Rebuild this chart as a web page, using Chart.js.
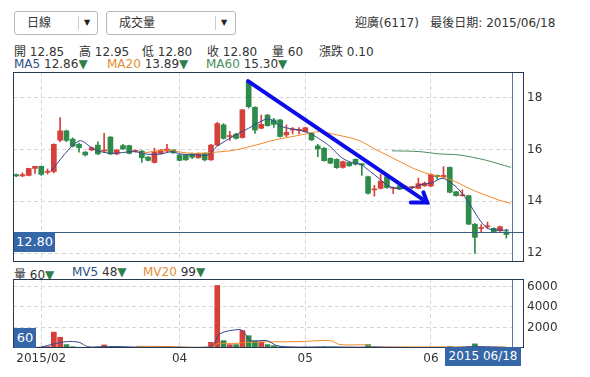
<!DOCTYPE html>
<html><head><meta charset="utf-8">
<script src="https://cdn.jsdelivr.net/npm/chart.js@4/dist/chart.umd.min.js"></script>
<style>
body{margin:0;width:590px;height:377px;background:#fff;font-family:"DejaVu Sans","Noto Sans CJK TC",sans-serif;font-size:12px;color:#333;position:relative;overflow:hidden}
.a{position:absolute;white-space:nowrap}
.dd{position:absolute;top:11px;height:22px;border:1px solid #b8b8b8;border-radius:3px;line-height:22px;background:#fff}
.dd .t{position:absolute;left:12px;top:0}
.dd .sep{position:absolute;top:4px;width:1px;height:14px;background:#ccc}
.dd .arr{position:absolute;top:0;font-size:8px;color:#222}
.tri{color:#2f7d4a;font-size:12px}
.box{position:absolute;background:#3466a8;color:#fff;font-size:13px;text-align:center}
canvas{position:absolute;left:0}
</style></head><body>
<div class="dd" style="left:14px;width:82px"><span class="t">日線</span><span class="sep" style="left:63px"></span><span class="arr" style="left:69px">▼</span></div>
<div class="dd" style="left:106px;width:128px"><span class="t">成交量</span><span class="sep" style="left:108px"></span><span class="arr" style="left:114px">▼</span></div>
<div class="a" style="left:355px;top:13px">迎廣(6117)&nbsp;&nbsp; 最後日期: 2015/06/18</div>
<div class="a" style="left:14px;top:42px">開 12.85</div>
<div class="a" style="left:79px;top:42px">高 12.95</div>
<div class="a" style="left:142px;top:42px">低 12.80</div>
<div class="a" style="left:207px;top:42px">收 12.80</div>
<div class="a" style="left:272px;top:42px">量 60</div>
<div class="a" style="left:319px;top:42px">漲跌 0.10</div>
<div class="a" style="left:14px;top:57px"><span style="color:#2d4f80">MA5</span> 12.86<span class="tri">▼</span></div>
<div class="a" style="left:107px;top:57px"><span style="color:#e58c35">MA20</span> 13.89<span class="tri">▼</span></div>
<div class="a" style="left:206px;top:57px"><span style="color:#4a8d5c">MA60</span> 15.30<span class="tri">▼</span></div>
<div class="a" style="left:14px;top:265px">量 60<span class="tri">▼</span></div>
<div class="a" style="left:72px;top:265px"><span style="color:#2d4f80">MV5</span> 48<span class="tri">▼</span></div>
<div class="a" style="left:143px;top:265px"><span style="color:#e58c35">MV20</span> 99<span class="tri">▼</span></div>
<canvas id="main" width="590" height="190" style="top:72px"></canvas>
<canvas id="vol" width="590" height="90" style="top:279px"></canvas>
<div class="box" style="left:14px;top:232px;width:41px;height:20px;line-height:20px">12.80</div>
<div class="box" style="left:14px;top:328px;width:22px;height:20px;line-height:20px">60</div>
<div class="box" style="left:445px;top:347px;width:76px;height:19px;line-height:19px;font-size:12px">2015 06/18</div>
<script>
// ---- data ----
const xTickPos = [4, 26, 46, 66];
const xTickLabels = ['2015/02', '04', '05', '06'];
const priceTicks = [12, 14, 16, 18];
const volTicks = [2000, 4000, 6000];

const opens  = [15.03,14.98,15.00,15.27,15.35,15.12,15.15,16.36,16.72,16.40,16.20,15.90,15.98,16.17,15.94,16.48,15.83,16.15,16.15,15.93,
                15.94,15.71,15.50,15.85,15.94,15.98,15.79,15.79,15.83,15.68,15.85,15.60,16.17,16.95,16.50,16.59,16.46,18.60,17.63,16.82,
                17.33,17.14,17.14,16.56,16.75,16.74,16.69,16.62,16.14,16.05,15.66,15.62,15.31,15.50,15.62,15.45,14.95,14.44,14.50,14.95,
                14.50,14.60,14.52,14.53,14.50,14.60,14.59,15.00,14.95,15.31,14.37,14.22,14.22,13.12,12.95,13.02,12.96,12.86,12.82];
const highs  = [15.05,15.10,15.28,15.35,15.36,15.25,16.22,17.23,16.75,16.45,16.25,15.92,16.10,16.30,16.62,16.50,16.00,16.20,16.17,15.98,
                15.96,15.73,16.05,16.00,16.20,16.00,15.81,15.81,15.86,15.87,15.87,16.20,17.05,17.00,16.70,16.62,17.55,18.62,17.65,17.33,
                17.35,17.20,17.16,16.95,16.85,16.85,16.86,16.65,16.20,16.07,15.68,15.64,15.55,15.52,15.64,15.46,14.97,14.62,15.04,14.97,
                14.55,14.62,14.60,14.58,14.90,14.75,15.06,15.02,15.34,15.33,14.39,14.45,14.24,13.14,13.10,13.20,12.98,13.05,12.92];
const lows   = [14.95,14.95,14.98,15.08,15.00,15.05,15.10,16.30,16.30,16.10,15.90,15.75,15.95,15.80,15.90,15.80,15.80,16.00,15.83,15.90,
                15.50,15.56,15.48,15.83,15.92,15.85,15.56,15.58,15.65,15.66,15.56,15.58,16.15,16.40,16.35,16.40,16.44,17.60,16.62,16.80,
                16.90,16.85,16.48,16.50,16.60,16.60,16.67,16.35,15.72,15.55,15.45,15.27,15.28,15.35,15.40,15.00,14.28,14.20,14.48,14.50,
                14.30,14.45,14.45,14.48,14.48,14.58,14.57,14.85,14.93,14.33,14.20,14.20,13.10,11.99,12.80,12.95,12.80,12.84,12.58];
const closes = [14.98,15.03,15.27,15.35,15.04,15.15,16.20,16.72,16.35,16.13,16.07,15.79,16.07,15.83,15.95,15.83,15.98,16.02,15.85,15.94,
                15.68,15.58,15.92,15.98,16.02,15.87,15.58,15.60,15.70,15.85,15.60,16.17,17.00,16.43,16.51,16.43,17.53,17.65,16.75,16.97,
                16.92,16.97,16.50,16.66,16.76,16.75,16.84,16.37,16.02,15.57,15.47,15.30,15.53,15.37,15.43,15.40,14.31,14.45,14.78,14.53,
                14.51,14.47,14.53,14.54,14.68,14.70,15.04,14.95,15.00,14.35,14.22,14.23,13.12,12.61,12.99,13.03,12.83,13.02,12.72];
const volumes = [90,70,110,80,100,140,1550,1050,330,130,80,60,50,90,300,120,70,60,60,50,
                 80,60,100,60,70,50,90,70,60,60,70,550,6100,720,330,330,1700,1200,700,600,
                 330,230,120,100,80,70,90,80,100,120,90,80,70,60,60,70,330,80,70,60,
                 50,50,40,40,60,50,80,60,70,150,60,50,130,400,50,40,50,40,60];

const ma5Pts  = [[5.5,15.17],[10,16.33],[12.6,15.98],[15.2,15.85],[18.7,15.92],[20.8,15.82],[22.9,15.82],[24.8,15.92],[26.1,15.83],[28.8,15.79],
                 [30.6,15.79],[31.9,16.11],[34.9,16.56],[37,16.82],[39.7,17.17],[40.7,17.14],[42.3,16.88],[45,16.75],[46.8,16.62],[48.1,16.43],
                 [50,16.11],[51.6,15.72],[53.2,15.51],[54.8,15.43],[56.4,15.14],[57.7,14.89],[59,14.63],[60.6,14.50],[63.3,14.53],[64.1,14.63],
                 [66.2,14.72],[67.8,14.89],[69.1,14.73],[70.5,14.44],[72.1,13.92],[73.6,13.34],[75,12.96],[76.8,12.89],[78.4,12.89]];
const ma20Pts = [[20,15.86],[24,15.98],[26.1,15.90],[28.2,15.85],[30.3,15.87],[31.9,15.90],[34.9,15.98],[38.1,16.17],[41.2,16.37],[44.4,16.52],
                 [46.5,16.62],[48.2,16.69],[51.1,16.56],[54.3,16.37],[57.4,15.98],[60.6,15.59],[63.8,15.21],[66.2,15.02],[68.3,14.91],[70.5,14.69],
                 [72.6,14.44],[74.7,14.24],[76.8,14.05],[78.7,13.92]];
const ma60Pts = [[59.8,15.95],[64.1,15.92],[67.3,15.83],[70.5,15.79],[74.7,15.59],[78.7,15.31]];
const mv5Pts  = [[4,100],[6,390],[8,620],[10,560],[11.4,130],[13,110],[16,140],[20,70],[25,70],[30,70],[31.3,200],[32.4,1380],[35.6,1800],
                 [36.4,1440],[37.2,720],[39.9,720],[41.5,230],[44,100],[50,100],[55,80],[57,100],[60,60],[70,60],[73,140],[78,48]];
const mv20Pts = [[19,160],[24,150],[26,100],[31,100],[32,410],[35,450],[36.5,540],[40,600],[45,620],[50,720],[51.5,330],[55.8,300],
                 [56.5,110],[60,100],[70,100],[78,99]];
const trendLine = [[36.9,18.64],[65.4,13.96]];
const trendHead = [[62.8,13.96],[65.4,13.96],[64.8,14.35]];
const lastClose = 12.80;

// ---- drawing ----
const RED = '#d5403b', GREEN = '#2e8b4a';
const FONT = {family: '"DejaVu Sans","Noto Sans CJK TC",sans-serif', size: 12};
const idx = opens.map((_, i) => i);
const colors = idx.map(i => closes[i] >= opens[i] ? RED : GREEN);
const pts = a => a.map(p => ({x: p[0], y: p[1]}));
const X_MIN = -0.5, X_MAX = 78.9, FRAME_EXTRA = 11;

function frame(color, cursor) {
  return {
    id: 'frame',
    afterDatasetsDraw(chart) {
      const {ctx, chartArea: c} = chart;
      ctx.save();
      ctx.lineWidth = 1;
      ctx.strokeStyle = cursor;
      ctx.beginPath(); ctx.moveTo(c.right + 0.5, c.top); ctx.lineTo(c.right + 0.5, c.bottom); ctx.stroke();
      if (chart.canvas.id === 'main') {
        const y = Math.round(chart.scales.y.getPixelForValue(lastClose)) + 0.5;
        ctx.strokeStyle = '#3d5f80';
        ctx.beginPath(); ctx.moveTo(c.left, y); ctx.lineTo(c.right + FRAME_EXTRA, y); ctx.stroke();
      }
      ctx.strokeStyle = color;
      ctx.strokeRect(c.left + 0.5, c.top + 0.5, c.right + FRAME_EXTRA - c.left, c.bottom - c.top - 1);
      ctx.restore();
    }
  };
}

const xScale = (showLabels, h) => ({
  type: 'linear', min: X_MIN, max: X_MAX, offset: false,
  afterBuildTicks: s => { s.ticks = xTickPos.map(v => ({value: v})); },
  afterFit: s => { s.height = h; s.paddingLeft = 0; s.paddingRight = 0; },
  grid: {color: '#d6d6d6', drawTicks: false, offset: false},
  border: {display: false, dash: [4, 3]},
  ticks: {display: showLabels, font: FONT, color: '#333', padding: 4, maxRotation: 0, autoSkip: false,
          callback: v => { const k = xTickPos.indexOf(v); return k >= 0 ? xTickLabels[k] : ''; }}
});
const yScale = (min, max, ticks) => ({
  position: 'right', min, max,
  afterBuildTicks: s => { s.ticks = ticks.map(v => ({value: v})); },
  afterFit: s => { s.width = 78; s.paddingTop = 0; s.paddingBottom = 0; },
  grid: {color: '#d6d6d6', drawTicks: false},
  border: {display: false, dash: [4, 3]},
  ticks: {font: FONT, color: '#333', padding: 15, callback: v => String(v)}
});
const common = {
  responsive: false, animation: false, devicePixelRatio: 1,
  layout: {padding: {left: 13, right: 0, top: 0, bottom: 0}, autoPadding: false},
  plugins: {legend: {display: false}, tooltip: {enabled: false}}
};
const lineDs = (data, color, order, w) => ({type: 'line', data: pts(data), borderColor: color, borderWidth: w || 1,
  pointRadius: 0, tension: 0.3, fill: false, order});

new Chart(document.getElementById('main'), {
  type: 'bar',
  data: {datasets: [
    {type: 'line', data: pts(trendLine), borderColor: '#0c0ce8', borderWidth: 4, pointRadius: 0, tension: 0, order: 0, borderCapStyle: 'round'},
    {type: 'line', data: pts(trendHead), borderColor: '#0c0ce8', borderWidth: 4, pointRadius: 0, tension: 0, order: 0, borderCapStyle: 'round', borderJoinStyle: 'miter'},
    lineDs(ma5Pts, '#34478f', 1),
    lineDs(ma20Pts, '#f0892a', 1),
    lineDs(ma60Pts, '#4e8c5e', 1),
    {data: idx.map(i => ({x: i, y: [opens[i], closes[i]]})), backgroundColor: colors, barThickness: 5, minBarLength: 1, grouped: false, order: 2},
    {data: idx.map(i => ({x: i, y: [lows[i], highs[i]]})), backgroundColor: colors, barThickness: 1, grouped: false, order: 3}
  ]},
  options: Object.assign({}, common, {
    scales: {x: xScale(false, 0), y: yScale(11.66, 18.99, priceTicks)}
  }),
  plugins: [frame('#25394f', '#56789a')]
});

new Chart(document.getElementById('vol'), {
  type: 'bar',
  data: {datasets: [
    lineDs(mv5Pts, '#34478f', 1),
    lineDs(mv20Pts, '#f0892a', 1),
    {data: idx.map(i => ({x: i, y: volumes[i]})), backgroundColor: colors, barThickness: 5, grouped: false, order: 2}
  ]},
  options: Object.assign({}, common, {
    scales: {x: xScale(true, 21), y: yScale(0, 6730, volTicks)}
  }),
  plugins: [frame('#25394f', '#56789a')]
});
</script>
</body></html>
